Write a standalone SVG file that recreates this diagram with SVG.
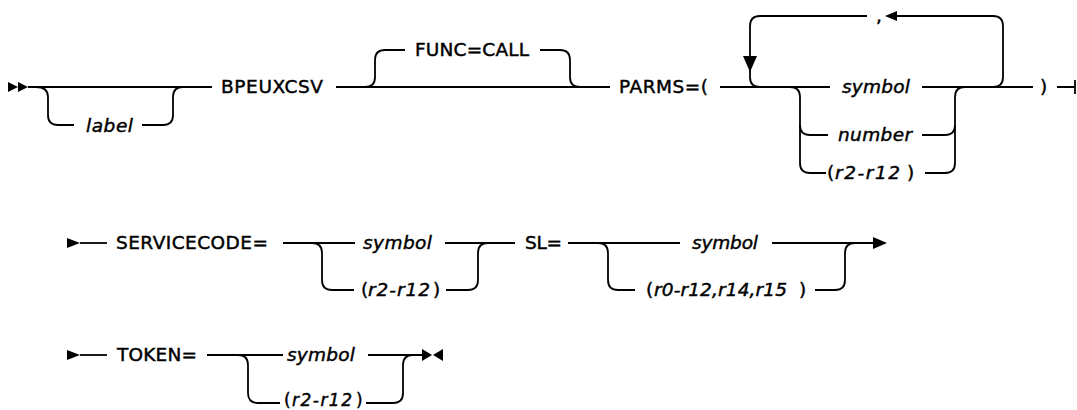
<svg xmlns="http://www.w3.org/2000/svg" width="1077" height="410" viewBox="0 0 1077 410">
<style>
  .t { font-family: "DejaVu Sans", "Liberation Sans", sans-serif; font-size: 18.5px; fill: #000; stroke: #000; stroke-width: 0.45; }
  .i { font-style: italic; }
  .ln { fill: none; stroke: #000; stroke-width: 1.8; }
  .ar { fill: #000; stroke: none; }
</style>
<rect width="1077" height="410" fill="#fff"/>
<g id="connectors">
  <!-- row 1 -->
  <polygon class="ar" points="8,82 18,87 8,92"/>
  <polygon class="ar" points="18,82 28,87 18,92"/>
  <path class="ln" d="M28,87 H212"/>
  <path class="ln" d="M36,87 Q48,87 48,97 V115 Q48,125 58,125 H74"/>
  <path class="ln" d="M142,125 H163 Q173,125 173,115 V97 Q173,87 183,87"/>
  <path class="ln" d="M336,87 H610"/>
  <path class="ln" d="M365,87 Q375,87 375,77 V60 Q375,50 385,50 H405"/>
  <path class="ln" d="M540,50 H560 Q570,50 570,60 V77 Q570,87 580,87"/>
  <path class="ln" d="M720,87 H830"/>
  <path class="ln" d="M922,87 H1033"/>
  <path class="ln" d="M993,87 Q1003,87 1003,77 V26 Q1003,16 993,16 H897"/>
  <polygon class="ar" points="885,16 897,11 897,21"/>
  <path class="ln" d="M867,16 H760 Q750,16 750,26 V77 Q750,87 760,87"/>
  <polygon class="ar" points="743,56 757,56 750,72"/>
  <path class="ln" d="M790,87 Q800,87 800,97 V163 Q800,173 810,173 H826"/>
  <path class="ln" d="M800,125 Q800,135 810,135 H828"/>
  <path class="ln" d="M922,135 H945 Q955,135 955,125"/>
  <path class="ln" d="M925,173 H945 Q955,173 955,163 V97 Q955,87 965,87"/>
  <path class="ln" d="M1057,87 H1075 M1075,80 V94"/>
  <!-- row 2 -->
  <polygon class="ar" points="67,238 80,243 67,248"/>
  <path class="ln" d="M80,243 H107"/>
  <path class="ln" d="M283,243 H355"/>
  <path class="ln" d="M312,243 Q322,243 322,253 V280 Q322,290 332,290 H354"/>
  <path class="ln" d="M445,243 H515"/>
  <path class="ln" d="M446,290 H468 Q478,290 478,280 V253 Q478,243 488,243"/>
  <path class="ln" d="M568,243 H680"/>
  <path class="ln" d="M598,243 Q608,243 608,253 V280 Q608,290 618,290 H635"/>
  <path class="ln" d="M772,243 H874"/>
  <polygon class="ar" points="873,237 887,243 873,249"/>
  <path class="ln" d="M815,290 H835 Q845,290 845,280 V253 Q845,243 855,243"/>
  <!-- row 3 -->
  <polygon class="ar" points="67,350 80,355 67,360"/>
  <path class="ln" d="M80,355 H107"/>
  <path class="ln" d="M207,355 H283"/>
  <path class="ln" d="M238,355 Q248,355 248,365 V393 Q248,403 258,403 H280"/>
  <path class="ln" d="M368,355 H422"/>
  <path class="ln" d="M366,403 H393 Q403,403 403,393 V365 Q403,355 413,355"/>
  <polygon class="ar" points="422,349 432,355 422,361"/>
  <polygon class="ar" points="443,349 433,355 443,361"/>
</g>
<g id="label"><text class="t i" x="86" y="132" textLength="47">label</text></g>
<g id="bpeuxcsv"><text class="t" x="221" y="93" textLength="102">BPEUXCSV</text></g>
<g id="func-call"><text class="t" x="415" y="56" textLength="114">FUNC=CALL</text></g>
<g id="parms"><text class="t" x="619" y="93" textLength="89">PARMS=(</text></g>
<g id="comma"><text class="t" x="876" y="22">,</text></g>
<g id="parms-symbol"><text class="t i" x="842" y="93" textLength="68">symbol</text></g>
<g id="parms-number"><text class="t i" x="838" y="141" textLength="74">number</text></g>
<g id="parms-reg"><text class="t" x="827" y="179">(</text><text class="t i" x="835" y="179" textLength="65">r2-r12</text><text class="t" x="907" y="179">)</text></g>
<g id="parms-close"><text class="t" x="1040" y="93">)</text></g>
<g id="servicecode"><text class="t" x="116" y="249" textLength="152">SERVICECODE=</text></g>
<g id="sc-symbol"><text class="t i" x="363" y="249" textLength="69">symbol</text></g>
<g id="sc-reg"><text class="t" x="361" y="296">(</text><text class="t i" x="368" y="296" textLength="62">r2-r12</text><text class="t" x="433" y="296">)</text></g>
<g id="sl"><text class="t" x="525" y="249" textLength="37">SL=</text></g>
<g id="sl-symbol"><text class="t i" x="692" y="249" textLength="66">symbol</text></g>
<g id="sl-reg"><text class="t" x="646" y="296">(</text><text class="t i" x="654" y="296" textLength="133">r0-r12,r14,r15</text><text class="t" x="799" y="296">)</text></g>
<g id="token"><text class="t" x="117" y="361" textLength="80">TOKEN=</text></g>
<g id="tk-symbol"><text class="t i" x="287" y="361" textLength="68">symbol</text></g>
<g id="tk-reg"><text class="t" x="284" y="406" style="font-size:17px">(</text><text class="t i" x="292" y="406" textLength="60" style="font-size:17px">r2-r12</text><text class="t" x="356" y="406" style="font-size:17px">)</text></g>
</svg>
